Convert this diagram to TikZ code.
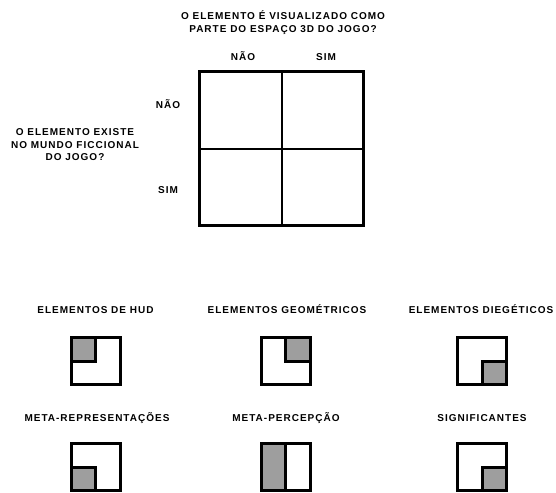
\documentclass[tikz,border=0pt]{standalone}
\usepackage{fontspec}
\setmainfont{Liberation Sans}
\newfontfamily\capsfont[LetterSpace=10]{Liberation Sans}
\usepackage{tikz}
\usetikzlibrary{positioning}
\definecolor{cellgray}{gray}{0.62}

\begin{document}
\begin{tikzpicture}[x=1pt, y=-1pt,
  lbl/.style={font=\capsfont\bfseries\fontsize{10}{12.5}\selectfont, inner sep=0pt, align=center},
  matbox/.style={draw, line width=2.7pt, minimum width=164pt, minimum height=154pt, inner sep=0pt, outer sep=0pt},
  divline/.style={line width=2pt},
  icon/.style={draw, line width=3pt, minimum width=49pt, minimum height=47pt, inner sep=0pt, outer sep=0pt},
  quad/.style={draw, fill=cellgray, line width=3pt}
]
  \useasboundingbox (0,0) rectangle (556,492);

  % questions
  \node[lbl] (q3d)  at (283,22.5) {O ELEMENTO É VISUALIZADO COMO\\PARTE DO ESPAÇO 3D DO JOGO?};
  \node[lbl] (qfic) at (75,145)   {O ELEMENTO EXISTE\\NO MUNDO FICCIONAL\\DO JOGO?};

  % matrix
  \node[matbox] (mat) at (281.5,148.5) {};
  \draw[divline] (mat.north) -- (mat.south);
  \draw[divline] (mat.west) -- (mat.east);

  \node[lbl, anchor=base] (colno)  at (243,60.6)  {NÃO};
  \node[lbl, anchor=base] (colyes) at (326,60.6)  {SIM};
  \node[lbl, anchor=base] (rowno)  at (168,108.6) {NÃO};
  \node[lbl, anchor=base] (rowyes) at (168,193.6) {SIM};

  % categories
  \node[lbl, anchor=base] (hud)  at (95.5,313.6)  {ELEMENTOS DE HUD};
  \node[lbl, anchor=base] (geo)  at (287,313.6)   {ELEMENTOS GEOMÉTRICOS};
  \node[lbl, anchor=base] (dieg) at (481,313.6)   {ELEMENTOS DIEGÉTICOS};
  \node[lbl, anchor=base] (rep)  at (97,421.6)    {META-REPRESENTAÇÕES};
  \node[lbl, anchor=base] (perc) at (286,421.6)   {META-PERCEPÇÃO};
  \node[lbl, anchor=base] (sign) at (482,421.6)   {SIGNIFICANTES};

  \node[icon] (hudbox)  at (95.5,361)  {};
  \node[icon] (geobox)  at (285.5,361) {};
  \node[icon] (diegbox) at (482,361)   {};
  \node[icon] (repbox)  at (95.5,467)  {};
  \node[icon] (percbox) at (285.5,467) {};
  \node[icon] (signbox) at (482,467)   {};

  \filldraw[quad] (hudbox.north west) rectangle (hudbox.center);
  \filldraw[quad] (geobox.north) rectangle (geobox.east);
  \filldraw[quad] (diegbox.center) rectangle (diegbox.south east);
  \filldraw[quad] (repbox.west) rectangle (repbox.south);
  \filldraw[quad] (percbox.north west) rectangle (percbox.south);
  \filldraw[quad] (signbox.center) rectangle (signbox.south east);
\end{tikzpicture}
\end{document}
